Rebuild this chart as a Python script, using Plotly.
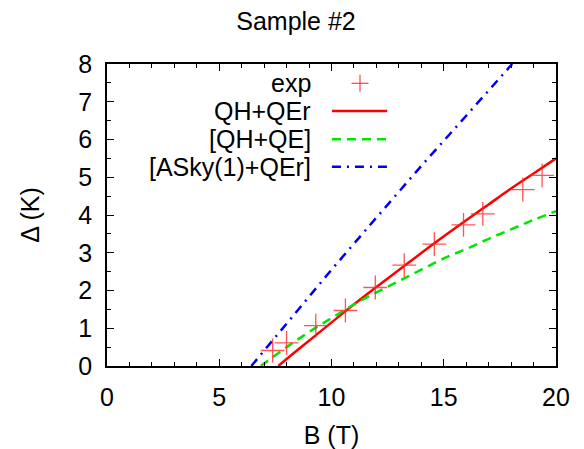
import plotly.graph_objects as go

# experimental points
exp_B = [7.38, 8.0, 9.3, 10.62, 11.95, 13.24, 14.58, 15.88, 16.74, 18.52, 19.38]
exp_D = [0.41, 0.61, 1.07, 1.47, 2.08, 2.67, 3.23, 3.74, 4.03, 4.67, 5.05]

# QH+QEr (solid red)
qher_B = [7.63, 8.5, 9.5, 10.68, 12.0, 13.0, 14.58, 16.0, 17.0, 18.0, 19.0, 20.0]
qher_D = [0.0, 0.43, 0.91, 1.48, 2.09, 2.54, 3.25, 3.86, 4.28, 4.70, 5.10, 5.50]

# [QH+QE] (dashed green)
qhe_B = [6.85, 8.0, 9.0, 10.0, 11.0, 12.0, 13.0, 14.0, 15.0, 16.0, 17.0, 18.0, 19.0, 20.0]
qhe_D = [0.0, 0.50, 0.90, 1.27, 1.63, 1.95, 2.25, 2.55, 2.85, 3.10, 3.37, 3.62, 3.87, 4.10]

# [ASky(1)+QEr] (dash-dot blue)
asky_B = [6.43, 8.0, 10.0, 12.0, 14.0, 16.0, 18.05]
asky_D = [0.0, 1.13, 2.55, 3.93, 5.30, 6.63, 8.0]

legend_labels = ["exp", "QH+QEr", "[QH+QE]", "[ASky(1)+QEr]"]

FONT = "Liberation Sans, Arial, sans-serif"
RED = "rgb(255,0,0)"
PT = "rgba(255,40,40,0.8)"
GREEN = "rgb(0,230,0)"
BLUE = "rgb(0,0,240)"
DASH = "9px,6px"
DASHDOT = "9px,6px,2px,6px"

# page has an 8px body margin, so the figure is 8px smaller than the window
W, H = 576, 441
OFF = 8

fig = go.Figure()

fig.add_trace(go.Scatter(x=qher_B, y=qher_D, mode="lines", line_shape="spline",
                         line=dict(color=RED, width=2.5), showlegend=False))
fig.add_trace(go.Scatter(x=qhe_B, y=qhe_D, mode="lines", line_shape="spline",
                         line=dict(color=GREEN, width=2.5, dash=DASH), showlegend=False))
fig.add_trace(go.Scatter(x=asky_B, y=asky_D, mode="lines",
                         line=dict(color=BLUE, width=2.5, dash=DASHDOT), showlegend=False))
fig.add_trace(go.Scatter(x=exp_B, y=exp_D, mode="markers",
                         marker=dict(symbol="cross-thin-open", size=17, color=PT,
                                     line=dict(color=PT, width=1.3)),
                         showlegend=False))

# gnuplot-style key: text right aligned, sample on the right
rows_y = [0.936, 0.844, 0.751, 0.660]
for lab, yy in zip(legend_labels, rows_y):
    fig.add_annotation(x=0.459, y=yy, xref="paper", yref="paper", text=lab,
                       showarrow=False, xanchor="right", yanchor="middle",
                       font=dict(family=FONT, size=25, color="black"))

sx0, sx1 = 0.501, 0.624
cx = 0.5635
fig.add_shape(type="line", xref="paper", yref="paper", x0=cx - 0.019, x1=cx + 0.019,
              y0=rows_y[0], y1=rows_y[0], line=dict(color=PT, width=1.3))
fig.add_shape(type="line", xref="paper", yref="paper", x0=cx, x1=cx,
              y0=rows_y[0] - 0.028, y1=rows_y[0] + 0.028, line=dict(color=PT, width=1.3))
fig.add_shape(type="line", xref="paper", yref="paper", x0=sx0, x1=sx1,
              y0=rows_y[1], y1=rows_y[1], line=dict(color=RED, width=2.5))
fig.add_shape(type="line", xref="paper", yref="paper", x0=sx0, x1=sx1,
              y0=rows_y[2], y1=rows_y[2], line=dict(color=GREEN, width=2.5, dash=DASH))
fig.add_shape(type="line", xref="paper", yref="paper", x0=sx0, x1=sx1,
              y0=rows_y[3], y1=rows_y[3], line=dict(color=BLUE, width=2.5, dash=DASHDOT))

axis_common = dict(showgrid=False, zeroline=False, showline=True, linecolor="black",
                   linewidth=1.5, mirror="ticks", ticks="inside", ticklen=7,
                   tickcolor="black", tickwidth=1, automargin=False,
                   tickfont=dict(family=FONT, size=25, color="black"))

fig.update_xaxes(range=[0, 20], tickvals=[0, 5, 10, 15, 20],
                 minor=dict(dtick=1, ticks="inside", ticklen=4, tickcolor="black"),
                 ticklabelstandoff=8,
                 title=dict(text="B (T)", font=dict(family=FONT, size=25, color="black"),
                            standoff=19),
                 **axis_common)
fig.update_yaxes(range=[0, 8], dtick=1,
                 minor=dict(dtick=0.5, ticks="inside", ticklen=4, tickcolor="black"),
                 ticklabelstandoff=8,
                 title=dict(text="Δ (K)", font=dict(family=FONT, size=25, color="black"),
                            standoff=32),
                 **axis_common)

fig.update_layout(
    width=W, height=H,
    margin=dict(l=107 - OFF, r=28, t=64 - OFF, b=83),
    paper_bgcolor="white", plot_bgcolor="white",
    title=dict(text="Sample #2", x=(296 - OFF) / W, xanchor="center", y=1 - (21 - OFF) / H,
               yanchor="middle", font=dict(family=FONT, size=25, color="black")),
)

fig.write_html("out.html")
